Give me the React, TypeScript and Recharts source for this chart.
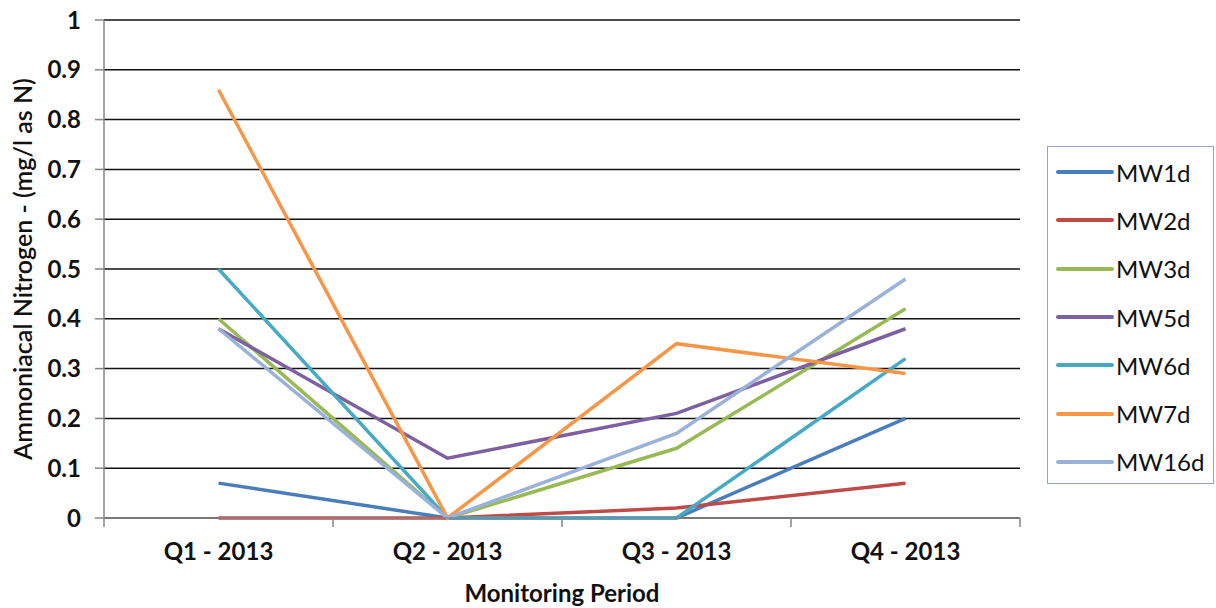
import { CartesianGrid, Legend, Line, LineChart, XAxis, YAxis } from "recharts";

// quarterly ammoniacal nitrogen readings per monitoring well (mg/l as N)
const quarters = ["Q1 - 2013", "Q2 - 2013", "Q3 - 2013", "Q4 - 2013"];

const mw1d = [0.07, 0, 0, 0.2];
const mw2d = [0, 0, 0.02, 0.07];
const mw3d = [0.4, 0, 0.14, 0.42];
const mw5d = [0.38, 0.12, 0.21, 0.38];
const mw6d = [0.5, 0, 0, 0.32];
const mw7d = [0.86, 0, 0.35, 0.29];
const mw16d = [0.38, 0, 0.17, 0.48];

const yTicks = [0, 0.1, 0.2, 0.3, 0.4, 0.5, 0.6, 0.7, 0.8, 0.9, 1];

const series = [
  { key: "MW1d", values: mw1d, color: "#4A7EBB" },
  { key: "MW2d", values: mw2d, color: "#BE4B48" },
  { key: "MW3d", values: mw3d, color: "#98B954" },
  { key: "MW5d", values: mw5d, color: "#7D60A0" },
  { key: "MW6d", values: mw6d, color: "#46AAC5" },
  { key: "MW7d", values: mw7d, color: "#F79646" },
  { key: "MW16d", values: mw16d, color: "#9AB1DA" },
];

const data = quarters.map((q, i) => {
  const row: Record<string, string | number> = { quarter: q };
  series.forEach((s) => {
    row[s.key] = s.values[i];
  });
  return row;
});

const W = 1216;
const H = 608;
const MARGIN = { top: 20, right: 196, left: 0, bottom: 0 };
const Y_AXIS_W = 104;
const X_AXIS_H = 90;
const FONT = "Lato, 'Open Sans', sans-serif";
const AXIS_GRAY = "#868686";

// each quarter gets an equal slot, points sit in the middle of it
const bandWidth = (W - MARGIN.left - MARGIN.right - Y_AXIS_W) / quarters.length;
const half = bandWidth / 2;

// category label plus Excel-style tick marks between categories
function QuarterTick(props: any) {
  const { x, y, payload, index } = props;
  const axisY = y - 8;
  return (
    <g>
      <line x1={x - half} x2={x - half} y1={axisY} y2={axisY + 9} stroke={AXIS_GRAY} strokeWidth={1.5} />
      {index === quarters.length - 1 && (
        <line x1={x + half} x2={x + half} y1={axisY} y2={axisY + 9} stroke={AXIS_GRAY} strokeWidth={1.5} />
      )}
      <text x={x} y={axisY + 42} textAnchor="middle" fontFamily={FONT} fontWeight={700} fontSize={24} fill="#111">
        {payload.value}
      </text>
    </g>
  );
}

function LegendBox() {
  return (
    <div
      style={{
        width: 165,
        height: 335,
        border: "1.5px solid #8EA6C8",
        background: "#fff",
        boxSizing: "content-box",
        paddingTop: 1,
      }}
    >
      {series.map((s) => (
        <div key={s.key} style={{ display: "flex", alignItems: "center", height: 48.3 }}>
          <svg width={62} height={10} style={{ marginLeft: 8 }}>
            <line x1={2} x2={56} y1={5} y2={5} stroke={s.color} strokeWidth={4} strokeLinecap="round" />
          </svg>
          <span style={{ fontFamily: FONT, fontSize: 24, color: "#111", marginLeft: -2 }}>{s.key}</span>
        </div>
      ))}
    </div>
  );
}

export default function App() {
  return (
    <div style={{ position: "absolute", left: 0, top: 0, background: "#fff" }}>
      <LineChart width={W} height={H} data={data} margin={MARGIN}>
        <CartesianGrid horizontal vertical={false} stroke="#111" strokeWidth={1.5} />
        <XAxis
          dataKey="quarter"
          height={X_AXIS_H}
          padding={{ left: half, right: half }}
          stroke={AXIS_GRAY}
          strokeWidth={1.5}
          tickLine={false}
          tick={<QuarterTick />}
          interval={0}
          label={{
            value: "Monitoring Period",
            position: "insideBottom",
            offset: 6,
            style: { fontFamily: FONT, fontWeight: 700, fontSize: 24, fill: "#111" },
          }}
        />
        <YAxis
          width={Y_AXIS_W}
          domain={[0, 1]}
          ticks={yTicks}
          stroke={AXIS_GRAY}
          strokeWidth={1.5}
          tickSize={9}
          tickMargin={14}
          tick={{ fontFamily: FONT, fontWeight: 700, fontSize: 24, fill: "#111" }}
          label={{
            content: ({ viewBox }: any) => {
              const cx = viewBox.x + 22;
              const cy = viewBox.y + viewBox.height / 2;
              return (
                <text
                  x={cx}
                  y={cy}
                  transform={`rotate(-90, ${cx}, ${cy})`}
                  textAnchor="middle"
                  dominantBaseline="central"
                  fontFamily={FONT}
                  fontWeight={600}
                  fontSize={25}
                  fill="#111"
                >
                  Ammoniacal Nitrogen - (mg/l as N)
                </text>
              );
            },
          }}
        />
        <Legend
          layout="vertical"
          align="center"
          verticalAlign="middle"
          content={<LegendBox />}
          wrapperStyle={{ left: 1047, top: 146, width: 168 }}
        />
        {series.map((s) => (
          <Line
            key={s.key}
            dataKey={s.key}
            name={s.key}
            type="linear"
            stroke={s.color}
            strokeWidth={3.5}
            dot={false}
            activeDot={false}
            isAnimationActive={false}
          />
        ))}
      </LineChart>
    </div>
  );
}
